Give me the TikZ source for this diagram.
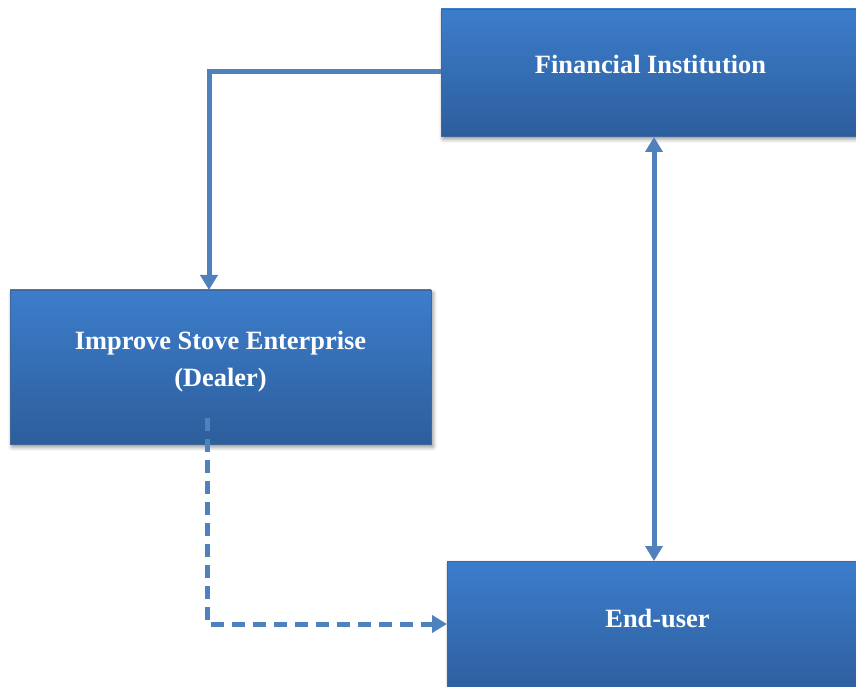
\documentclass[tikz,border=0pt]{standalone}
\usepackage{fontspec}
\setmainfont{Liberation Serif}
\usetikzlibrary{arrows.meta,shadows.blur}
\definecolor{linecol}{RGB}{79,129,189}
\definecolor{boxtop}{RGB}{60,125,203}
\definecolor{boxbot}{RGB}{45,94,156}
\tikzset{
  blbox/.style={rectangle, draw=linecol!80!black, line width=0.8pt, top color=boxtop, bottom color=boxbot,
    blur shadow={shadow xshift=2pt, shadow yshift=-3pt, shadow blur radius=4pt, shadow opacity=45}},
  lbl/.style={text=white, font=\fontsize{26.4}{37}\selectfont\bfseries, align=center},
  conn/.style={draw=linecol, line width=5pt},
  tip/.style={-{Triangle[width=17pt,length=15pt]}},
  tips/.style={{Triangle[width=17pt,length=15pt]}-{Triangle[width=17pt,length=15pt]}},
}
\begin{document}
\begin{tikzpicture}[x=1pt,y=1pt]
\useasboundingbox (0,0) rectangle (856,686);
\begin{scope}
\clip (0,0) rectangle (856,686);
% boxes
\path[blbox] (441,550) rectangle (870,677);
\node[inner sep=0pt, minimum width=0pt] (fi) at (441,614) {};
\coordinate (fibot) at (654,549);
\path[blbox] (10,242) rectangle (431,396);
\coordinate (isetop) at (209,396);
\coordinate (isein) at (207,268);
\path[blbox] (447,-10) rectangle (870,125);
\coordinate (eutop) at (654,125);
\coordinate (euleft) at (447,62);
\end{scope}
% labels
\node[lbl] (fiT) at (650.5,621) {Financial Institution};
\node[lbl] (iseT) at (220.5,324.5) {Improve Stove Enterprise\\(Dealer)};
\node[lbl] (euT) at (657.5,68) {End-user};
% connectors
\draw[conn, tip] (fi.west) -- (209,614) -- (isetop);
\draw[conn, tips] (fibot) -- (eutop);
\draw[conn, tip, dash pattern=on 13pt off 8pt] (isein) |- (euleft);
\end{tikzpicture}
\end{document}
